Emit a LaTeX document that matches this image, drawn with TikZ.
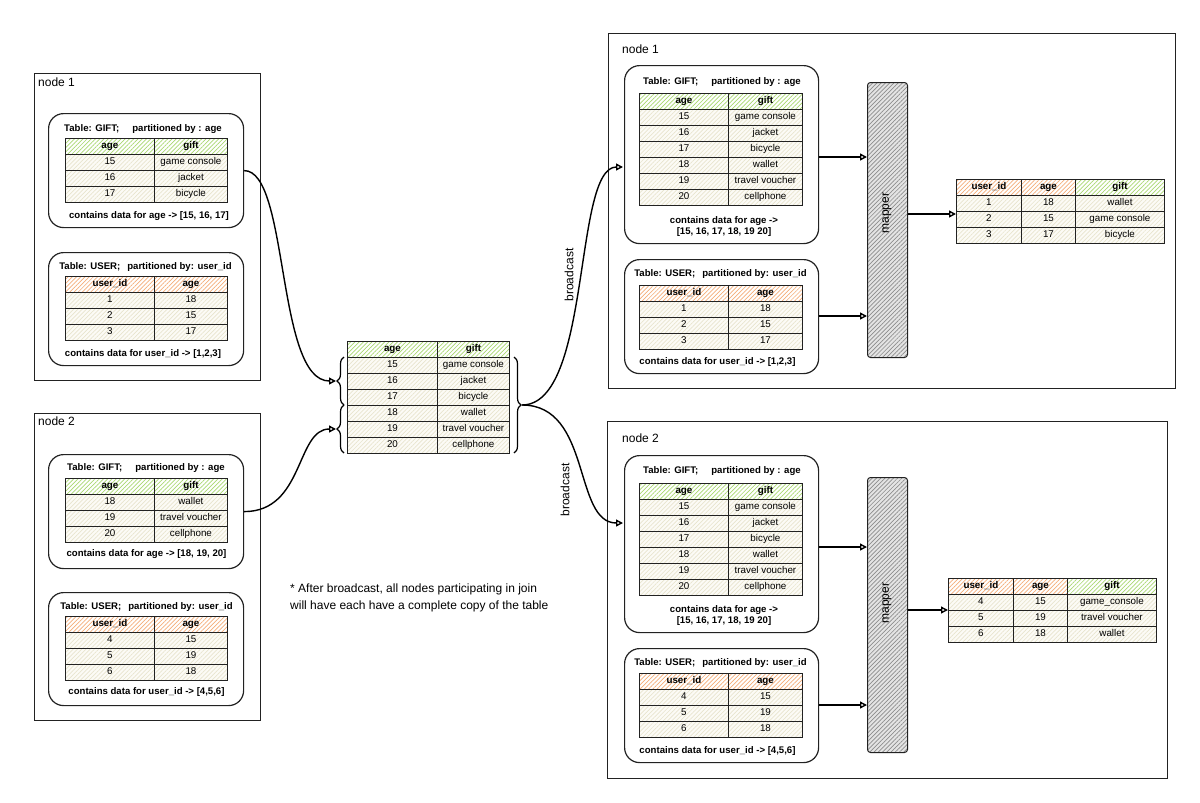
\documentclass[tikz,border=0pt]{standalone}
\usepackage{fontspec}
\setmainfont{Liberation Sans}
\usetikzlibrary{patterns.meta,arrows.meta,decorations.pathreplacing}

\definecolor{ln}{HTML}{222222}
\definecolor{hg}{HTML}{A9D870}
\definecolor{ho}{HTML}{F5AD78}
\definecolor{hb}{HTML}{E8E4CE}
\definecolor{bb}{HTML}{FCFBF6}
\definecolor{mg}{HTML}{8C8C8C}
\definecolor{mb}{HTML}{E4E4E4}

\tikzset{
  cellbox/.style={draw=ln, line width=0.9pt, minimum height=16pt, inner sep=0pt,
    text height=7pt, text depth=2pt, font=\fontsize{9.8}{11}\selectfont, anchor=north west},
  hatch/.style={pattern={Lines[angle=45,distance=3pt,line width=0.7pt]}},
  hdrG/.style={cellbox, preaction={fill=white}, hatch, pattern color=hg, font=\fontsize{9.8}{11}\selectfont\bfseries},
  hdrO/.style={cellbox, preaction={fill=white}, hatch, pattern color=ho, font=\fontsize{9.8}{11}\selectfont\bfseries},
  bodyc/.style={cellbox, preaction={fill=bb}, hatch, pattern color=hb},
  outer/.style={draw=ln, line width=1pt, anchor=north west, inner sep=0pt},
  rbox/.style={draw=ln, line width=1.2pt, rounded corners=15pt, anchor=north west, inner sep=0pt},
  ttl/.style={font=\fontsize{9.6}{11}\selectfont\bfseries, inner sep=0pt, text height=7pt, text depth=2pt},
  captxt/.style={font=\fontsize{9.6}{11}\selectfont\bfseries, align=center, inner sep=0pt},
  nlabel/.style={font=\fontsize{12}{14}\selectfont, anchor=west, inner sep=0pt, text height=8.5pt, text depth=0pt},
  conn/.style={draw=black, line width=1.4pt, -{Triangle[open,length=7pt,width=7pt]}},
  mapperbox/.style={draw=ln, line width=1pt, rounded corners=3pt, preaction={fill=mb}, hatch,
    pattern color=mg, anchor=north west, minimum width=40pt, minimum height=275pt, inner sep=0pt},
  brc/.style={draw=black, line width=1.2pt, decorate, decoration={brace, amplitude=7pt}},
  vlbl/.style={rotate=90, font=\fontsize{12}{14}\selectfont, inner sep=0pt},
}

% two-column table: name, x, y, w1, w2, header style, h1, h2, rows
\newcommand\twotab[9]{%
  \node[#6, minimum width=#4pt] (#1-0-1) at (#2,#3) {#7};
  \node[#6, minimum width=#5pt] (#1-0-2) at (#2+#4,#3) {#8};
  \foreach \a/\b [count=\i] in {#9}{%
    \node[bodyc, minimum width=#4pt] (#1-\i-1) at (#2,#3+16*\i) {\a};
    \node[bodyc, minimum width=#5pt] (#1-\i-2) at (#2+#4,#3+16*\i) {\b};
  }}
% three-column result table: name, x, y, rows
\newcommand\threetab[4]{%
  \node[hdrO, minimum width=65pt] (#1-0-1) at (#2,#3) {user\_id};
  \node[hdrO, minimum width=54pt] (#1-0-2) at (#2+65,#3) {age};
  \node[hdrG, minimum width=89pt] (#1-0-3) at (#2+119,#3) {gift};
  \foreach \a/\b/\c [count=\i] in {#4}{%
    \node[bodyc, minimum width=65pt] (#1-\i-1) at (#2,#3+16*\i) {\a};
    \node[bodyc, minimum width=54pt] (#1-\i-2) at (#2+65,#3+16*\i) {\b};
    \node[bodyc, minimum width=89pt] (#1-\i-3) at (#2+119,#3+16*\i) {\c};
  }}

\begin{document}
\begin{tikzpicture}[x=1pt,y=-1pt]
\useasboundingbox[fill=white] (0,0) rectangle (1200,803);

% ---------------- left node 1 ----------------
\node[outer, minimum width=226pt, minimum height=307pt] (L1) at (34,73) {};
\node[nlabel] (L1n) at (38,82) {node 1};
\node[rbox, minimum width=195pt, minimum height=114pt] (L1g) at (48,113) {};
\node[ttl] (L1gt) at (143,129) {Table: GIFT;\hspace{13pt}partitioned by : age};
\twotab{L1gT}{65}{138}{89}{73}{hdrG}{age}{gift}{15/game console,16/jacket,17/bicycle}
\node[captxt] (L1gc) at (149,216) {contains data for age -> [15, 16, 17]};
\node[rbox, minimum width=195pt, minimum height=113pt] (L1u) at (48,252) {};
\node[ttl] (L1ut) at (145.5,267) {Table: USER;\hspace{7pt}partitioned by: user\_id};
\twotab{L1uT}{65}{276}{89}{73}{hdrO}{user\_id}{age}{1/18,2/15,3/17}
\node[captxt] (L1uc) at (143,354) {contains data for user\_id -> [1,2,3]};

% ---------------- left node 2 ----------------
\node[outer, minimum width=226pt, minimum height=307pt] (L2) at (34,413) {};
\node[nlabel] (L2n) at (38,421) {node 2};
\node[rbox, minimum width=195pt, minimum height=114pt] (L2g) at (48,454) {};
\node[ttl] (L2gt) at (146,468) {Table: GIFT;\hspace{13pt}partitioned by : age};
\twotab{L2gT}{65}{478}{89}{73}{hdrG}{age}{gift}{18/wallet,19/travel voucher,20/cellphone}
\node[captxt] (L2gc) at (146.5,554) {contains data for age -> [18, 19, 20]};
\node[rbox, minimum width=195pt, minimum height=113pt] (L2u) at (48,592) {};
\node[ttl] (L2ut) at (146.5,607) {Table: USER;\hspace{7pt}partitioned by: user\_id};
\twotab{L2uT}{65}{616}{89}{73}{hdrO}{user\_id}{age}{4/15,5/19,6/18}
\node[captxt] (L2uc) at (146.5,692) {contains data for user\_id -> [4,5,6]};

% ---------------- centre table ----------------
\twotab{C}{347}{341}{90}{72}{hdrG}{age}{gift}{15/game console,16/jacket,17/bicycle,18/wallet,19/travel voucher,20/cellphone}
\coordinate (cb1s) at (344,405);
\coordinate (cb1e) at (344,357);
\coordinate (cb2s) at (344,453);
\coordinate (cb2e) at (344,405);
\coordinate (cb3s) at (514,357);
\coordinate (cb3e) at (514,453);
\draw[brc] (cb1s) -- (cb1e);
\draw[brc] (cb2s) -- (cb2e);
\draw[brc] (cb3s) -- (cb3e);
\coordinate (lt1) at (336,381);
\coordinate (lt2) at (336,429);
\coordinate (rt) at (522,405);

\draw[conn] (L1g.east) .. controls +(45,0) and +(-60,0) .. (lt1);
\draw[conn] (L2g.east) .. controls +(60,0) and +(-40,0) .. (lt2);

% note
\node[anchor=north west, align=left, font=\fontsize{12}{17}\selectfont, inner sep=0pt] (note) at (290,583.5)
  {* After broadcast, all nodes participating in join\\will have each have a complete copy of the table};

% ---------------- right node 1 ----------------
\node[outer, minimum width=567pt, minimum height=355pt] (R1) at (608,33) {};
\node[nlabel] (R1n) at (622,49) {node 1};
\node[rbox, minimum width=194pt, minimum height=178pt] (R1g) at (624,65) {};
\node[ttl] (R1gt) at (722,82) {Table: GIFT;\hspace{13pt}partitioned by : age};
\twotab{R1gT}{639}{93}{89}{74}{hdrG}{age}{gift}{15/game console,16/jacket,17/bicycle,18/wallet,19/travel voucher,20/cellphone}
\node[captxt] (R1gc) at (724,227) {contains data for age ->\\{}[15, 16, 17, 18, 19 20]};
\node[rbox, minimum width=194pt, minimum height=114pt] (R1u) at (624,259) {};
\node[ttl] (R1ut) at (720.5,274) {Table: USER;\hspace{7pt}partitioned by: user\_id};
\twotab{R1uT}{639}{285}{89}{74}{hdrO}{user\_id}{age}{1/18,2/15,3/17}
\node[captxt] (R1uc) at (717.5,362) {contains data for user\_id -> [1,2,3]};
\node[mapperbox] (M1) at (867,82) {};
\node[vlbl] (M1t) at (887,213) {mapper};
\threetab{T1}{956}{179}{1/18/wallet,2/15/game console,3/17/bicycle}

% ---------------- right node 2 ----------------
\node[outer, minimum width=560pt, minimum height=357pt] (R2) at (607,421) {};
\node[nlabel] (R2n) at (622,438) {node 2};
\node[rbox, minimum width=194pt, minimum height=177pt] (R2g) at (624,455) {};
\node[ttl] (R2gt) at (722,471) {Table: GIFT;\hspace{13pt}partitioned by : age};
\twotab{R2gT}{639}{483}{89}{74}{hdrG}{age}{gift}{15/game console,16/jacket,17/bicycle,18/wallet,19/travel voucher,20/cellphone}
\node[captxt] (R2gc) at (724,615.5) {contains data for age ->\\{}[15, 16, 17, 18, 19 20]};
\node[rbox, minimum width=194pt, minimum height=114pt] (R2u) at (624,648) {};
\node[ttl] (R2ut) at (720.5,663) {Table: USER;\hspace{7pt}partitioned by: user\_id};
\twotab{R2uT}{639}{673}{89}{74}{hdrO}{user\_id}{age}{4/15,5/19,6/18}
\node[captxt] (R2uc) at (717.5,751) {contains data for user\_id -> [4,5,6]};
\node[mapperbox] (M2) at (867,477) {};
\node[vlbl] (M2t) at (887,603) {mapper};
\threetab{T2}{948}{578}{4/15/game\_console,5/19/travel voucher,6/18/wallet}

% ---------------- broadcast connectors ----------------
\coordinate (r1in) at (623,167);
\coordinate (r2in) at (623,523);
\draw[conn] (rt) .. controls +(70,0) and +(-50,0) .. (r1in);
\draw[conn] (rt) .. controls +(70,0) and +(-50,0) .. (r2in);
\node[vlbl] (bc1) at (569,275) {broadcast};
\node[vlbl] (bc2) at (565,490) {broadcast};

% ---------------- mapper connectors ----------------
\coordinate (y1a) at (0,157);
\coordinate (y1b) at (0,316);
\coordinate (y1c) at (0,214);
\coordinate (y2a) at (0,547);
\coordinate (y2b) at (0,705);
\coordinate (y2c) at (0,610);
\draw[conn] (R1g.east |- y1a) -- (M1.west |- y1a);
\draw[conn] (R1u.east |- y1b) -- (M1.west |- y1b);
\draw[conn] (M1.east |- y1c) -- (T1-1-1.west |- y1c);
\draw[conn] (R2g.east |- y2a) -- (M2.west |- y2a);
\draw[conn] (R2u.east |- y2b) -- (M2.west |- y2b);
\draw[conn] (M2.east |- y2c) -- (T2-1-1.west |- y2c);
\end{tikzpicture}
\end{document}
